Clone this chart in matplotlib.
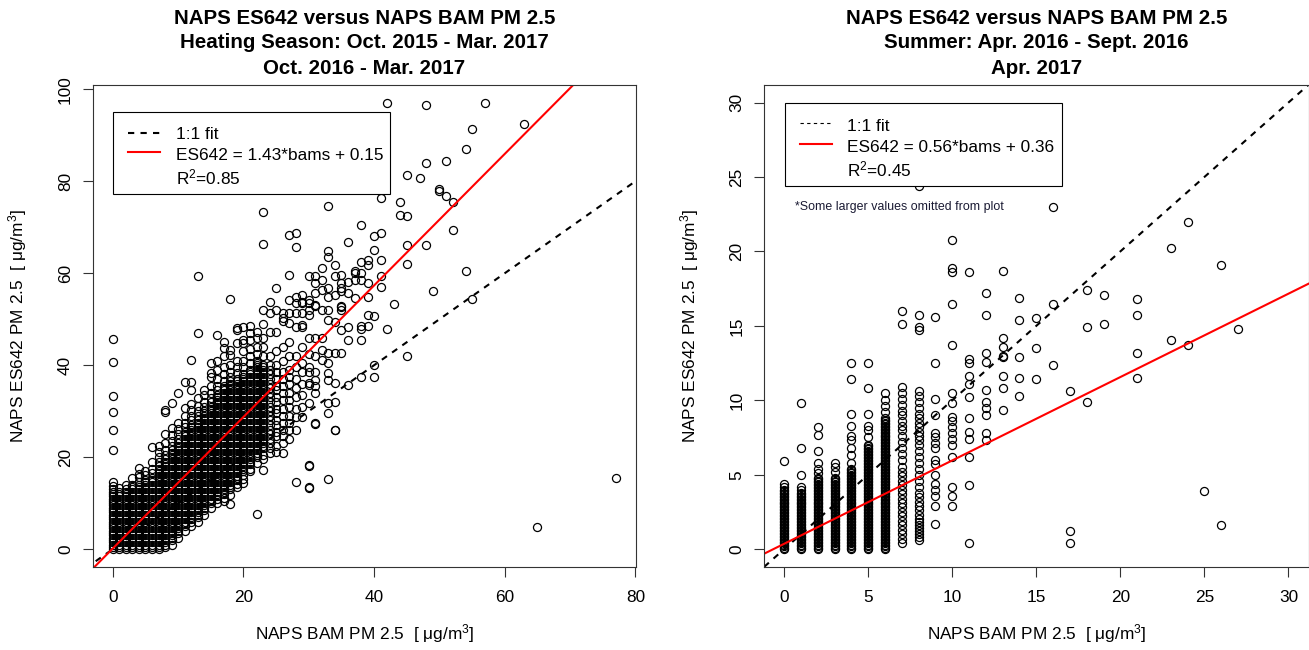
import numpy as np
import matplotlib
matplotlib.use("Agg")
import matplotlib.pyplot as plt
from matplotlib.lines import Line2D
from matplotlib.patches import Rectangle

plt.rcParams['font.family'] = ['Liberation Sans', 'DejaVu Sans']
plt.rcParams['mathtext.default'] = 'regular'

# Heating season: one string of ES642 readings for each BAM reading (integer ug/m3)
heat_bam = list(range(0, 43)) + [43, 44, 45, 47, 48, 49, 50, 51, 52, 54, 55, 57, 63, 65, 77]
heat_es642 = [
    "0 .5 1 1.5 2 2.5 3 3.5 4 4.5 5 5.5 6 6.5 7 7.5 8 8.5 9 9.5 10 10.5 11 11.5 12 12.5 13 13.8 14.7 21.6 25.9 29.8 33.2 40.7 45.6",
    "0 .5 1 1.5 2 2.5 3 3.5 4 4.5 5 5.5 6 6.5 7 7.5 8 8.5 9 9.5 10 10.5 11 11.5 12 12.5 13.3",
    "0 .5 1 1.5 2 2.5 3 3.5 4 4.5 5 5.5 6 6.5 7 7.5 8 8.5 9 9.5 10 10.5 11 11.5 12 12.5 13 14",
    "0 .5 1 1.5 2 2.5 3 3.5 4 4.5 5 5.5 6 6.5 7 7.5 8 8.5 9 9.5 10 10.5 11 11.5 12 12.5 13 13.5 14 15.4",
    "0 .5 1 1.5 2 2.5 3 3.5 4 4.5 5 5.5 6 6.5 7 7.5 8 8.5 9 9.5 10 10.5 11 11.5 12 12.5 13 13.5 14 14.5 15.6 16.4 17.6",
    "0 .5 1 1.5 2 2.5 3 3.5 4 4.5 5 5.5 6 6.5 7 7.5 8 8.5 9 9.5 10 10.5 11 11.5 12 12.5 13 13.5 14 14.5 15 16.2 17",
    "0 .5 1 1.5 2 2.5 3 3.5 4 4.5 5 5.5 6 6.5 7 7.5 8 8.5 9 9.5 10 10.5 11 11.5 12 12.5 13 13.5 14 14.5 15 15.5 16.5 17.5 19 22.3",
    "0 .5 1 1.5 2 2.5 3 3.5 4 4.5 5 5.5 6 6.5 7 7.5 8 8.5 9 9.5 10 10.5 11 11.5 12 12.5 13 13.5 14 14.5 15 15.5 16 16.5 17 17.5 18 19 20 21.2 22.5",
    ".5 1 1.5 2 2.5 3 3.5 4 4.5 5 5.5 6 6.5 7 7.5 8 8.5 9 9.5 10 10.5 11 11.5 12 12.5 13 13.5 14 14.5 15 15.5 16 16.5 17 17.5 18 18.5 19 19.5 20.5 21.5 23 25 29.9 30.3",
    ".8 2 2.5 3 3.5 4 4.5 5 5.5 6 6.5 7 7.5 8 8.5 9 9.5 10 10.5 11 11.5 12 12.5 13 13.5 14 14.5 15 15.5 16 16.5 17 17.5 18 18.5 19 19.5 20 20.5 21 21.5 22.5 23.5 24.8 26.3 31.7",
    "2.5 3.5 4 4.5 5 5.5 6 6.5 7 7.5 8 8.5 9 9.5 10 10.5 11 11.5 12 12.5 13 13.5 14 14.5 15 15.5 16 16.5 17 17.5 18 18.5 19 19.5 20 20.5 21 21.5 22 22.5 23 24 25 26.2 27.4 34",
    "4 5 5.5 6 6.5 7 7.5 8 8.5 9 9.5 10 10.5 11 11.5 12 12.5 13 13.5 14 14.5 15 15.5 16 16.5 17 17.5 18 18.5 19 19.5 20 20.5 21 21.5 22 22.5 23 23.5 24 24.5 25 25.5 26.5 27.5 29 30.7 36.4",
    "5 6 6.5 7 7.5 8 8.5 9 9.5 10 10.5 11 11.5 12 12.5 13 13.5 14 14.5 15 15.5 16 16.5 17 17.5 18 18.5 19 19.5 20 20.5 21 21.5 22 22.5 23 23.5 24 24.5 25 25.5 26 26.5 27 28 29 30.2 31.5 34.6 36.4 41.2",
    "6 7 7.5 8 8.5 9 9.5 10 10.5 11 11.5 12 12.5 13 13.5 14 14.5 15 15.5 16 16.5 17 17.5 18 18.5 19 19.5 20 20.5 21 21.5 22 22.5 23 23.5 24 24.5 25 25.5 26 26.5 27 27.5 28 29 30 31.2 32.8 47 59.3",
    "7.5 8.5 9 9.5 10 10.5 11 11.5 12 12.5 13 13.5 14 14.5 15 15.5 16 16.5 17 17.5 18 18.5 19 19.5 20 20.5 21 21.5 22 22.5 23 23.5 24 24.5 25 25.5 26 26.5 27 27.5 28 28.5 29 29.5 30 31 32.1 33.5 34.6",
    "9 10 10.5 11 11.5 12 12.5 13 13.5 14 14.5 15 15.5 16 16.5 17 17.5 18 18.5 19 19.5 20 20.5 21 21.5 22 22.5 23 23.5 24 24.5 25 25.5 26 26.5 27 27.5 28 28.5 29 29.5 30 30.5 31 32 32.8 34 35.5 37.5 38.3 40.4",
    "10 11 11.5 12 12.5 13 13.5 14 14.5 15 15.5 16 16.5 17 17.5 18 18.5 19 19.5 20 20.5 21 21.5 22 22.5 23 23.5 24 24.5 25 25.5 26 26.5 27 27.5 28 28.5 29 29.5 30 30.5 31 31.5 32 32.5 33 33.5 34.5 35.5 37 39 40.8 46.6",
    "10.5 11.2 12 12.5 13 13.5 14 14.5 15 15.5 16 16.5 17 17.5 18 18.5 19 19.5 20 20.5 21 21.5 22 22.5 23 23.5 24 24.5 25 25.5 26 26.5 27 27.5 28 28.5 29 29.5 30 30.5 31 31.5 32 32.5 33 33.5 34 34.5 35 35.5 36.5 38 39.5 41.9 43.7 45.1",
    "9.8 11.8 13 13.5 14 14.5 15 15.5 16 16.5 17 17.5 18 18.5 19 19.5 20 20.5 21 21.5 22 22.5 23 23.5 24 24.5 25 25.5 26 26.5 27 27.5 28 28.5 29 29.5 30 30.5 31 31.5 32 32.5 33 33.5 34 34.5 35 35.5 36 36.5 37.5 38.5 40 42.2 43.3 54.4",
    "13.5 14.2 15 15.5 16 16.5 17 17.5 18 18.5 19 19.5 20 20.5 21 21.5 22 22.5 23 23.5 24 24.5 25 25.5 26 26.5 27 27.5 28 28.5 29 29.5 30 30.5 31 31.5 32 32.5 33 33.5 34 34.5 35 35.5 36 36.5 37 38.3 39.5 41 44.8 47.7 48",
    "14.3 15.2 16.2 17 17.5 18 18.5 19 19.5 20 20.5 21 21.5 22 22.5 23 23.5 24 24.5 25 25.5 26 26.5 27 27.5 28 28.5 29 29.5 30 30.5 31 31.5 32 32.5 33 33.5 34 34.5 35 35.5 36 36.5 37 37.5 38 39.5 41 43 44.8 45.5 48.4",
    "16.9 17.5 18.5 19 19.5 20 20.5 21 21.5 22 22.5 23 23.5 24 24.5 25 25.5 26 26.5 27 27.5 28 28.5 29 29.5 30 30.5 31 31.5 32 32.5 33 33.5 34 34.5 35 35.5 36 36.5 37 37.5 38 38.5 39 40.5 42 43.5 45.5 47 48.6",
    "7.7 18.7 20 20.5 21 21.5 22 22.5 23 23.5 24 24.5 25 25.5 26 26.5 27 27.5 28 28.5 29 29.5 30 30.5 31 31.5 32 32.5 33 33.5 34 34.5 35 35.5 36 36.5 37 37.5 38 38.5 39 39.5 40 40.5 41 42.5 44 45.9 47.3",
    "17.2 19.5 20.5 22 22.5 23 23.5 24 24.5 25 25.5 26 26.5 27 27.5 28 28.5 29 29.5 30 30.5 31 31.5 32 32.5 33 33.5 34 34.5 35 35.5 36 36.5 37 37.5 38 38.5 39 39.5 40 42 44 46 49 52 66.4 73.3",
    "21 22 23 24 25 26 27 28 29 30 31 32 33 34 35 36 37 38 39 40 42 47.3 51.3 53.8",
    "21.2 22.5 24.5 25.5 27 28 29.5 30.5 32 33 34.5 35.5 37 38.5 40 43 47.3 52 56.7",
    "20.9 23 24.5 26 27.5 29 30.5 32.5 34 35.5 37 38.5 41 44 49.5 50.2 51.3",
    "24 26 27.5 29 31 32.5 34 36 37.5 39 42 45 49.1 51.3 54.2 59.6 68.2",
    "14.7 26 28.8 30.5 33 35 37 39.5 42 48.4 51.3 53.5 54.9 65.8 68.7",
    "28.8 31 33.5 36 38.6 40.4 44 48.4 48.8 51.3 53.5 53.8 55.3",
    "13.3 13.6 18.1 18.3 31.7 35.7 36.1 38.6 39.7 42.5 45.9 51 52 53.5 54.2 59.3",
    "27.2 27.4 33.9 35.4 36.8 38.5 41.9 45.9 52.8 53.1 55.7 57.8 59.3",
    "41.2 43.3 46 52 56.4 58.6 61.2",
    "15.2 29.6 31.7 36.8 38.3 40.4 42.6 49.9 52 54.9 56.7 63.6 64.9 74.7",
    "25.8 25.9 32 36.1 42.6 49.3 55.3 59.3 61.8",
    "42.6 47.7 52 52.6 52.8 56.2 56.7 57.8 59.6",
    "35.7 45.5 48.4 55.7 58 66.8",
    "54.6 58.6 60 60.4",
    "37.5 45.5 47.8 48.6 58.6 60 62.5 70.4",
    "48.6 50.9 54.9 57.8 61.8 62.9",
    "37.4 40.1 50.6 65 68.1",
    "57 59.3 62.9 68.8 76.4",
    "47.8 97.1",
    "53.2", "72.7 75.4", "41.9 62 66.2 72.5 81.4", "80.6", "66.2 84 96.5", "56.2",
    "77.9 78.2", "76.7 84.3", "69.3 75.4", "60.5 86.9", "54.3 91.4", "96.9",
    "92.5", "4.9", "15.4",
]

# Summer: same layout
summer_bam = list(range(0, 20)) + [21, 23, 24, 25, 26, 27]
summer_es642 = [
    "0 .1 .2 .3 .4 .5 .6 .7 .8 .9 1 1.1 1.2 1.3 1.4 1.5 1.6 1.7 1.8 1.9 2 2.1 2.2 2.3 2.4 2.5 2.6 2.7 2.8 2.9 3 3.1 3.2 3.3 3.4 3.5 3.6 3.7 3.8 3.9 4 4.2 4.4 5.9",
    "0 .1 .2 .3 .4 .5 .6 .7 .8 .9 1 1.1 1.2 1.3 1.4 1.5 1.6 1.7 1.8 1.9 2 2.1 2.2 2.3 2.4 2.5 2.6 2.7 2.8 2.9 3 3.1 3.2 3.3 3.4 3.5 3.6 3.7 3.8 4 4.2 5 6.8 9.8",
    "0 .1 .2 .3 .4 .5 .6 .7 .8 .9 1 1.1 1.2 1.3 1.4 1.5 1.6 1.7 1.8 1.9 2 2.1 2.2 2.3 2.4 2.5 2.6 2.7 2.8 2.9 3 3.1 3.2 3.3 3.4 3.5 3.6 3.7 3.8 3.9 4 4.1 4.2 4.3 4.4 4.5 4.6 4.7 4.8 5.1 5.4 5.8 6.6 7.7 8.2",
    "0 .1 .2 .3 .4 .5 .6 .7 .8 .9 1 1.1 1.2 1.3 1.4 1.5 1.6 1.7 1.8 1.9 2 2.1 2.2 2.3 2.4 2.5 2.6 2.7 2.8 2.9 3 3.1 3.2 3.3 3.4 3.5 3.6 3.7 3.8 3.9 4 4.1 4.2 4.3 4.4 4.5 4.6 4.7 4.8 5.2 5.5 5.8",
    "0 .1 .2 .3 .4 .5 .6 .7 .8 .9 1 1.1 1.2 1.3 1.4 1.5 1.6 1.7 1.8 1.9 2 2.1 2.2 2.3 2.4 2.5 2.6 2.7 2.8 2.9 3 3.1 3.2 3.3 3.4 3.5 3.6 3.7 3.8 3.9 4 4.1 4.2 4.3 4.4 4.5 4.6 4.7 4.8 4.9 5 5.1 5.2 5.3 5.4 5.8 6.3 6.8 7.3 7.6 8.3 9.1 11.4 12.5",
    "0 .1 .2 .3 .4 .5 .6 .7 .8 .9 1 1.1 1.2 1.3 1.4 1.5 1.6 1.7 1.8 1.9 2 2.1 2.2 2.3 2.4 2.5 2.6 2.7 2.8 2.9 3 3.1 3.2 3.3 3.4 3.5 3.6 3.7 3.8 3.9 4 4.1 4.2 4.3 4.4 4.5 4.6 4.7 4.8 4.9 5 5.1 5.2 5.3 5.4 5.5 5.6 5.7 5.8 5.9 6 6.1 6.2 6.3 6.4 6.5 6.6 6.7 6.8 6.9 7 7.5 8 8.3 9.1 10.8 12.5",
    "0 .1 .2 .3 .4 .5 .6 .7 .8 .9 1 1.1 1.2 1.3 1.4 1.5 1.6 1.7 1.8 1.9 2 2.1 2.2 2.3 2.4 2.5 2.6 2.7 2.8 2.9 3 3.1 3.2 3.3 3.4 3.5 3.6 3.7 3.8 3.9 4 4.1 4.2 4.3 4.4 4.5 4.6 4.7 4.8 4.9 5 5.1 5.2 5.3 5.4 5.5 5.6 5.7 5.8 5.9 6 6.1 6.2 6.3 6.4 6.5 6.6 6.7 6.8 6.9 7 7.1 7.2 7.3 7.4 7.5 7.6 7.7 7.8 7.9 8 8.1 8.2 8.3 8.4 8.5 8.6 8.7 8.8 9.2 9.6 10 10.5",
    ".4 .7 1 1.3 1.6 1.9 2.2 2.5 2.8 3.1 3.4 3.7 4 4.3 4.6 4.9 5.2 5.5 6 6.4 6.8 7.2 7.6 8 8.3 8.6 9 9.3 9.7 10.1 10.5 10.9 15.1 16",
    ".6 .8 1 1.2 1.4 1.6 1.8 2 2.3 2.6 2.9 3.2 3.5 3.8 4.2 4.6 5 5.4 5.8 6.2 6.6 7 7.3 7.6 7.9 8.2 8.5 8.8 9.1 9.5 9.9 10.3 10.6 14.7 14.9 15.7 24.4",
    "1.7 2.9 3.6 4 4.4 5 5.7 6 6.8 7.1 7.5 7.8 9 10.1 12.5 15.6",
    "2.9 3.6 4.2 6.2 7 7.4 7.8 8.2 8.6 8.9 9.8 10.5 13.7 16.5 18.6 18.9 20.8",
    ".4 4.3 6.2 7.4 7.9 8.8 10.2 11.1 11.6 12.5 12.8 18.6",
    "7.3 7.8 9 9.5 9.9 10.7 12.6 13.2 15.7 17.2",
    "9.35 10.8 11.65 12.9 13 13.6 14.2 18.7",
    "10.3 11.5 12.9 15.4 16.9",
    "11.4 13.5 15.5",
    "12.4 16.5 23",
    ".4 1.2 10.6",
    "9.9 14.9 17.4",
    "15.1 17.1",
    "11.5 13.2 15.7 16.8",
    "14.05 20.2",
    "13.7 22",
    "3.9",
    "1.6 19.1",
    "14.8",
]

heat_fit = (1.43, 0.15)
summer_fit = (0.56, 0.36)

W, H = 1309, 650


def expand(bam, es):
    xs, ys = [], []
    for b, s in zip(bam, es):
        vals = [float(v) for v in s.split()]
        xs += [b] * len(vals)
        ys += vals
    return np.array(xs), np.array(ys)


def fx(x):
    return x / W


def fy(y):
    return 1 - y / H


def r_pad(lo, hi):
    # R's default 4% axis extension
    d = 0.04 * (hi - lo)
    return lo - d, hi + d


fig = plt.figure(figsize=(W / 100, H / 100), dpi=100)
boxes = [(92.7, 84.7, 636.0, 567.0), (764.0, 84.7, 1308.6, 567.0)]
axes = []
for (x0, y0, x1, y1) in boxes:
    axes.append(fig.add_axes([fx(x0), fy(y1), (x1 - x0) / W, (y1 - y0) / H]))

panels = [
    (axes[0], heat_bam, heat_es642, heat_fit, None, np.arange(0, 81, 20), np.arange(0, 101, 20),
     ["NAPS ES642 versus NAPS BAM PM 2.5", "Heating Season: Oct. 2015 - Mar. 2017", "Oct. 2016 - Mar. 2017"]),
    (axes[1], summer_bam, summer_es642, summer_fit, (0, 30), np.arange(0, 31, 5), np.arange(0, 31, 5),
     ["NAPS ES642 versus NAPS BAM PM 2.5", "Summer: Apr. 2016 - Sept. 2016", "Apr. 2017"]),
]

for ax, bam, es, fit, lim, xt, yt, title in panels:
    x, y = expand(bam, es)
    ax.plot(x, y, linestyle='none', marker='o', ms=5.8, mfc='none', mec='black', mew=0.9)
    if lim is None:
        xl = r_pad(x.min(), x.max())
        yl = r_pad(y.min(), y.max())
    else:
        xl = r_pad(*lim)
        yl = r_pad(*lim)
    ax.set_xlim(xl)
    ax.set_ylim(yl)
    xx = np.array([min(xl[0], yl[0]) - 5, max(xl[1], yl[1]) + 5])
    ax.plot(xx, xx, color='black', lw=1.5, linestyle=(0, (3, 3)))
    ax.plot(xx, fit[0] * xx + fit[1], color='red', lw=1.5)
    ax.set_xticks(xt)
    ax.set_yticks(yt)
    ax.tick_params(direction='out', length=7.2, width=0.8, labelsize=12.4, color='#333333')
    ax.tick_params(axis='x', pad=9)
    ax.tick_params(axis='y', pad=7, labelrotation=90)
    for t in ax.get_yticklabels():
        t.set_va('center')
    for sp in ax.spines.values():
        sp.set_linewidth(0.8)
        sp.set_color('#333333')

    pos = ax.get_position()
    cx = (pos.x0 + pos.x1) / 2
    for i, line in enumerate(title):
        fig.text(cx, fy(18 + 25 * i), line, ha='center', va='center', fontsize=14.8, fontweight='bold')
    fig.text(cx, fy(634), "NAPS BAM PM 2.5  [ \u03bcg/m$^3$]", ha='center', va='center', fontsize=12.4)
    cy = (pos.y0 + pos.y1) / 2
    lx = 18 if ax is axes[0] else 690
    fig.text(fx(lx), cy, "NAPS ES642 PM 2.5  [ \u03bcg/m$^3$]", ha='center', va='center',
             rotation=90, fontsize=12.4)


def key_box(box, rows, dash_lw):
    x0, y0, x1, y1 = box
    fig.add_artist(Rectangle((fx(x0), fy(y1)), (x1 - x0) / W, (y1 - y0) / H,
                             transform=fig.transFigure, facecolor='white', edgecolor='black', lw=0.8))
    sx0, sx1 = x0 + 15, x0 + 47
    (t1, s1), (t2, s2), (t3, _) = rows
    fig.add_artist(Line2D([fx(sx0), fx(sx1)], [fy(s1), fy(s1)], transform=fig.transFigure,
                          color='black', lw=dash_lw, linestyle=(0, (3, 3))))
    fig.add_artist(Line2D([fx(sx0), fx(sx1)], [fy(s2), fy(s2)], transform=fig.transFigure,
                          color='red', lw=1.5))
    return [t1, t2, t3]


heat_rows = key_box((112.7, 111.7, 390.0, 194.0), [(139.3, 133.3), (160.0, 152.3), (184.3, None)], 1.5)
for ty, s in zip(heat_rows, ["1:1 fit", "ES642 = 1.43*bams + 0.15", "R$^2$=0.85"]):
    fig.text(fx(175.7), fy(ty), s, ha='left', va='baseline', fontsize=12.4)

summer_rows = key_box((785.0, 103.3, 1062.3, 186.0), [(131.0, 122.7), (151.7, 144.3), (176.0, None)], 0.8)
for ty, s in zip(summer_rows, ["1:1 fit", "ES642 = 0.56*bams + 0.36", "R$^2$=0.45"]):
    fig.text(fx(847.3), fy(ty), s, ha='left', va='baseline', fontsize=12.4)

fig.text(fx(795), fy(207.3), "*Some larger values omitted from plot", ha='left', va='center',
         fontsize=8.9, color='#1a1a33')

fig.savefig("out.png", dpi=100)
